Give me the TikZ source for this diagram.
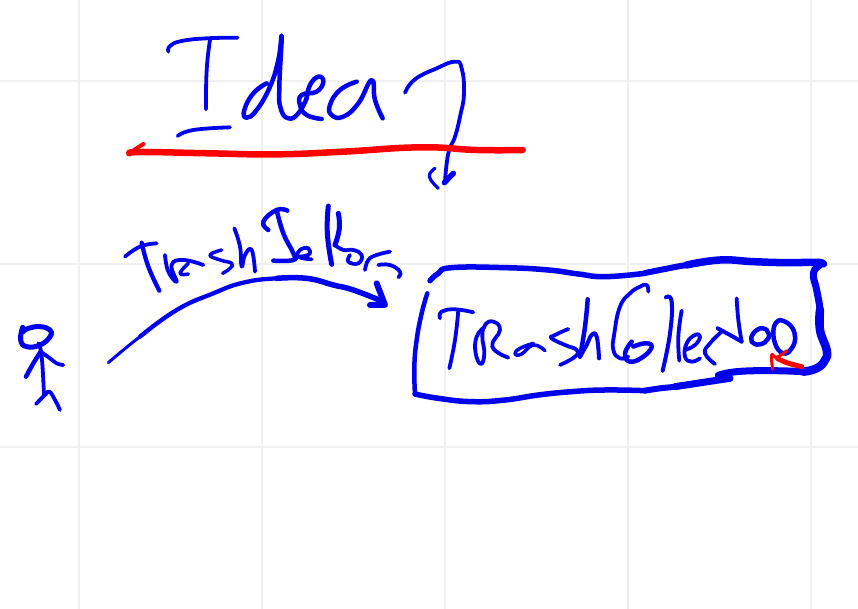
\documentclass[tikz,border=0pt]{standalone}
\definecolor{inkblue}{RGB}{0,0,238}
\definecolor{inkred}{RGB}{255,0,0}
\definecolor{gridgray}{RGB}{240,240,240}
\tikzset{
  ink/.style={draw=inkblue,line cap=round,line join=round,line width=#1*0.75pt},
  ink/.default=3,
  redink/.style={draw=inkred,line cap=round,line join=round,line width=#1*0.75pt},
  redink/.default=3,
  gridline/.style={draw=gridgray,line width=1.5pt},
  zoomA/.style={x=0.25pt,y=-0.25pt,shift={(330,60)}},
  zoomB/.style={x=0.25pt,y=-0.25pt,shift={(0,600)}},
  zoomC/.style={x=0.25pt,y=-0.25pt,shift={(1215,750)}},
  zoomD/.style={x=0.25pt,y=-0.25pt,shift={(1860,750)}},
}
\newcommand{\strk}[2]{\draw[#1] plot[smooth,tension=0.8] coordinates {#2};}
\begin{document}
\begin{tikzpicture}[x=0.75pt,y=-0.75pt]
\useasboundingbox (0,0) rectangle (858,609);
\fill[white] (0,0) rectangle (858,609);
\foreach \gx in {79,262,445,628,811} \draw[gridline] (\gx,0) -- (\gx,609);
\foreach \gy in {81,264,447} \draw[gridline] (0,\gy) -- (858,\gy);

\begin{scope}[zoomA]
  % I
  \strk{ink=3.8}{(175,95)(180,78)(215,63)(290,55)(383,53)}
  \strk{ink=3.8}{(300,60)(290,150)(288,268)}
  \strk{ink=3.8}{(203,348)(250,330)(360,322)}
  % d e a
  \strk{ink=4.5}{(470,190)(430,220)(403,270)(410,293)(440,270)(480,200)(505,120)(515,50)(508,200)(512,265)(535,295)(565,280)(590,235)}
  \strk{ink=4.5}{(590,235)(600,195)(625,170)(640,185)(620,215)(575,225)(570,255)(590,285)(635,297)}
  \strk{ink=4.5}{(740,185)(690,210)(660,255)(665,285)(700,290)(745,250)(785,180)(795,240)(818,295)}
  % hook arrow
  \strk{ink=3.8}{(885,218)(915,178)(980,145)(1035,125)(1055,145)(1062,220)(1050,290)(1035,350)(1015,400)(1005,485)}
  \strk{ink=5.5}{(1030,460)(1003,488)}
  \strk{ink=3.2}{(975,445)(958,470)(985,505)}
  % red underline
  \strk{redink=6.5}{(58,400)(100,396)(300,400)(500,403)(700,395)(930,382)(1100,390)(1238,390)}
  \strk{redink=4}{(60,398)(100,372)}
\end{scope}

\begin{scope}[zoomB]
  % Trash
  \strk{ink=3.8}{(375,170)(420,140)(470,130)}
  \strk{ink=4.3}{(425,128)(445,200)(478,272)}
  \strk{ink=3.8}{(495,165)(505,215)(530,245)(515,195)(550,180)(610,195)}
  \strk{ink=3.5}{(565,190)(540,220)(565,222)}
  \strk{ink=3.5}{(665,150)(630,165)(660,180)(695,190)(690,205)(668,220)}
  \strk{ink=3.8}{(703,85)(720,140)(725,200)(735,165)(755,150)(765,215)}
  % Jettons
  \strk{ink=4.5}{(805,90)(790,65)(830,30)(862,32)}
  \strk{ink=4.5}{(830,30)(850,100)(880,160)(880,180)(820,182)}
  \strk{ink=3.8}{(885,170)(925,165)(925,145)(900,150)(895,170)(935,178)}
  \strk{ink=5}{(985,18)(982,100)(995,193)}
  \strk{ink=5}{(1015,40)(1018,85)(1005,135)}
  \strk{ink=3.8}{(1005,135)(1030,150)(1060,150)(1085,165)(1075,190)(1045,185)(1050,165)}
  \strk{ink=3.8}{(1095,210)(1105,180)(1130,165)(1170,155)}
  \strk{ink=3.8}{(1135,195)(1170,195)(1200,215)(1195,232)}
  % curved arrow
  \strk{ink=3}{(325,488)(420,410)(530,330)(640,280)}
  \strk{ink=4.3}{(420,410)(530,330)(640,280)(730,248)(830,235)(920,235)(1000,255)}
  \strk{ink=5.5}{(830,235)(920,235)(1000,255)(1060,270)(1150,305)}
  \draw[ink=6] (1130,250) -- (1155,315) -- (1110,315);
  % stick figure
  \strk{ink=5}{(68,382)(62,420)(80,440)(120,435)(150,410)(150,390)(120,380)(85,385)(70,395)}
  \strk{ink=3.8}{(115,430)(125,470)(132,585)}
  \strk{ink=4.5}{(78,530)(100,490)(122,455)}
  \strk{ink=3.8}{(122,455)(150,475)(170,490)(190,495)}
  \strk{ink=3.8}{(108,612)(135,585)(148,575)(165,600)(180,630)}
\end{scope}

\begin{scope}[zoomC]
  % box, left half
  \strk{ink=4.5}{(67,130)(50,190)(35,270)(28,350)(30,432)}
  \strk{ink=5.5}{(30,432)(100,445)(200,455)(300,450)(400,435)(500,425)(600,420)(720,422)}
  \strk{ink=5.5}{(75,92)(100,70)(140,53)(300,53)(430,60)(520,72)(600,80)(720,70)}
  % Trash
  \strk{ink=3.8}{(105,205)(110,185)(150,178)(205,187)}
  \strk{ink=3.8}{(160,180)(150,270)(133,355)}
  \strk{ink=3.8}{(240,230)(215,260)(212,310)(228,342)(238,310)(232,260)(240,225)(265,215)(285,240)(262,290)(310,323)}
  \strk{ink=3.5}{(385,280)(345,295)(330,312)(350,312)(385,285)(420,302)}
  \strk{ink=3.8}{(490,237)(450,255)(440,265)(480,285)(515,300)(510,320)(465,345)}
  \strk{ink=4.5}{(548,148)(540,230)(525,320)}
  \strk{ink=4}{(525,320)(545,285)(560,255)(575,260)(582,325)}
  % C
  \strk{ink=3.8}{(730,125)(725,105)(705,110)(675,130)(645,170)(628,250)(625,300)(645,325)(670,320)}
\end{scope}

\begin{scope}[zoomD]
  % box, right half
  \strk{ink=6}{(75,69)(135,57)(200,45)(300,30)}
  \strk{ink=7.5}{(200,45)(300,30)(400,35)(500,38)(590,37)(610,42)}
  \strk{ink=7}{(600,45)(580,70)(590,120)(600,180)(600,240)}
  \strk{ink=8.5}{(600,180)(600,240)(620,300)(615,330)(590,355)(550,365)}
  \strk{ink=7}{(550,365)(450,362)(350,365)(295,376)}
  \strk{ink=7}{(330,385)(250,397)(165,410)}
  \strk{ink=6}{(250,397)(165,410)(120,415)(75,422)}
  % ollector
  \strk{ink=4.5}{(35,275)(15,310)(30,335)(70,320)(95,290)(75,280)(40,290)}
  \strk{ink=4}{(138,142)(155,155)(150,250)(128,362)}
  \strk{ink=3.8}{(185,182)(175,260)(178,332)}
  \strk{ink=3.8}{(195,300)(225,285)(240,260)(225,255)(200,280)(195,320)(215,335)(240,325)}
  \strk{ink=3.8}{(305,245)(270,280)(255,310)(285,342)}
  \strk{ink=3.8}{(350,145)(355,210)(365,275)}
  \strk{ink=4}{(293,235)(330,255)(365,275)}
  \strk{ink=4.5}{(420,235)(400,250)(395,275)(420,283)(445,265)(440,240)(420,235)}
  \strk{ink=4.5}{(480,210)(462,230)(465,280)(490,310)(515,295)(525,260)(510,225)(480,210)}
  % red arrow
  \strk{redink=5}{(545,350)(500,338)(472,325)}
  \strk{redink=3}{(500,302)(470,322)(455,315)(458,358)}
\end{scope}
\end{tikzpicture}
\end{document}
